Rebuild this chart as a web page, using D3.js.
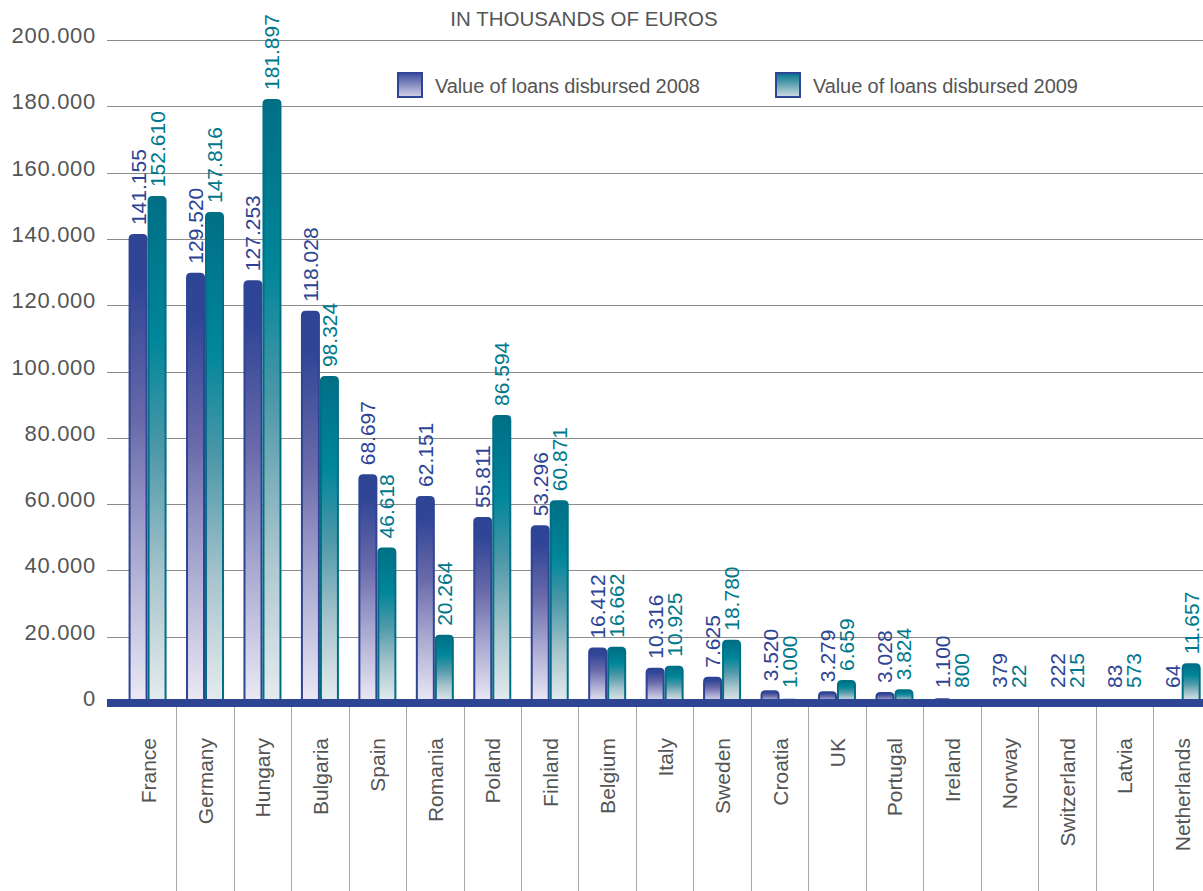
<!DOCTYPE html>
<html>
<head>
<meta charset="utf-8">
<script src="https://cdn.jsdelivr.net/npm/d3@7"></script>
<style>
  html, body { margin: 0; padding: 0; background: #fff; }
  svg { display: block; font-family: "Liberation Sans", Arial, Helvetica, sans-serif; }
</style>
</head>
<body>
<svg id="chart" width="1203" height="891"></svg>
<script>
const countries = ["France","Germany","Hungary","Bulgaria","Spain","Romania","Poland","Finland","Belgium","Italy","Sweden","Croatia","UK","Portugal","Ireland","Norway","Switzerland","Latvia","Netherlands"];
const loans2008 = [141155,129520,127253,118028,68697,62151,55811,53296,16412,10316,7625,3520,3279,3028,1100,379,222,83,64];
const loans2009 = [152610,147816,181897,98324,46618,20264,86594,60871,16662,10925,18780,1000,6659,3824,800,22,215,573,11657];
const seriesNames = ["Value of loans disbursed 2008","Value of loans disbursed 2009"];
const yTicks = [0,20000,40000,60000,80000,100000,120000,140000,160000,180000,200000];
const title = "IN THOUSANDS OF EUROS";

const svg = d3.select("#chart");
const W = 1203, H = 891;
const fmt = d3.formatLocale({decimal: ",", thousands: ".", grouping: [3], currency: ["", ""]}).format(",d");

const y = d3.scaleLinear().domain([0, 200000]).range([703, 40]);
const x = d3.scaleBand().domain(countries).range([118.85, 118.85 + 19 * 57.45]).padding(0);
const barW = 19;
const groupOff = (x.bandwidth() - 2 * barW) / 2;

const c08 = "#2e4494", c09 = "#00788b", c09s = "#006f84";
const gray = "#555555";

// gradients
const defs = svg.append("defs");
function grad(id, stops) {
  const g = defs.append("linearGradient").attr("id", id).attr("x1", 0).attr("y1", 0).attr("x2", 0).attr("y2", 1);
  stops.forEach(s => g.append("stop").attr("offset", s[0]).attr("stop-color", s[1]));
}
grad("g08", [[0, "#2e4494"], [0.1, "#304596"], [0.4, "#6a6aaa"], [0.65, "#a2a2cd"], [1, "#eceaf5"]]);
grad("g09", [[0, "#006f86"], [0.28, "#00869a"], [0.5, "#4d98a9"], [0.75, "#a8c5cd"], [1, "#e6ecef"]]);
grad("l08", [[0, "#3a4a9c"], [1, "#d6d4ea"]]);
grad("l09", [[0, "#00728a"], [1, "#cfdde2"]]);

// title
svg.append("text").attr("x", 584).attr("y", 26).attr("text-anchor", "middle")
  .attr("font-size", 20.5).attr("fill", gray).text(title);

// gridlines
svg.append("g").selectAll("line").data(yTicks).join("line")
  .attr("x1", 107).attr("x2", W).attr("y1", d => Math.round(y(d)) + 0.5).attr("y2", d => Math.round(y(d)) + 0.5)
  .attr("stroke", "#8c8c8c").attr("stroke-width", 1);

// y tick labels
svg.append("g").selectAll("text").data(yTicks).join("text")
  .attr("x", 96).attr("y", d => y(d) + 3).attr("text-anchor", "end")
  .attr("font-size", 22).attr("letter-spacing", 0.7).attr("fill", gray).text(d => fmt(d));

// category separators
svg.append("g").selectAll("line").data(countries.slice(1)).join("line")
  .attr("x1", d => Math.round(x(d)) + 0.5).attr("x2", d => Math.round(x(d)) + 0.5)
  .attr("y1", 707).attr("y2", H).attr("stroke", "#a8a8a8").attr("stroke-width", 1);

function barPath(x0, yTop, w, yBot) {
  const h = yBot - yTop;
  const r = Math.max(0, Math.min(4, h, w / 2));
  return `M${x0},${yBot} L${x0},${yTop + r} Q${x0},${yTop} ${x0 + r},${yTop} L${x0 + w - r},${yTop} Q${x0 + w},${yTop} ${x0 + w},${yTop + r} L${x0 + w},${yBot} Z`;
}

const series = [
  {vals: loans2008, fill: "url(#g08)", stroke: c08, text: c08, off: 0},
  {vals: loans2009, fill: "url(#g09)", stroke: c09s, text: c09, off: barW}
];

const bars = svg.append("g");
series.forEach(s => {
  bars.append("g").selectAll("path").data(countries).join("path")
    .attr("d", (c, i) => barPath(x(c) + groupOff + s.off + 1, y(s.vals[i]), barW - 2, y(0)))
    .attr("fill", s.fill).attr("stroke", s.stroke).attr("stroke-width", 2);
});

// baseline
svg.append("rect").attr("x", 107).attr("y", 699).attr("width", W - 107).attr("height", 8).attr("fill", "#2e4594");

// value labels
series.forEach(s => {
  svg.append("g").selectAll("text").data(countries).join("text")
    .attr("transform", (c, i) => {
      const cx = x(c) + groupOff + s.off + barW / 2 + 7.5;
      const yy = Math.min(y(s.vals[i]), y(0) - 5) - 10;
      return `translate(${cx},${yy}) rotate(-90)`;
    })
    .attr("font-size", 21).attr("fill", s.text).text((c, i) => fmt(s.vals[i]));
});

// category labels
svg.append("g").selectAll("text").data(countries).join("text")
  .attr("transform", c => `translate(${x(c) + x.bandwidth() / 2 + 8},738) rotate(-90)`)
  .attr("text-anchor", "end").attr("font-size", 21).attr("fill", gray).text(c => c);

// legend
const legend = [
  {name: seriesNames[0], fill: "url(#l08)", x: 397},
  {name: seriesNames[1], fill: "url(#l09)", x: 775}
];
legend.forEach(l => {
  svg.append("rect").attr("x", l.x + 1).attr("y", 73).attr("width", 24).attr("height", 24)
    .attr("fill", l.fill).attr("stroke", "#2e4494").attr("stroke-width", 2);
  svg.append("text").attr("x", l.x + 38).attr("y", 93).attr("font-size", 20).attr("letter-spacing", -0.1)
    .attr("fill", gray).text(l.name);
});
</script>
</body>
</html>
